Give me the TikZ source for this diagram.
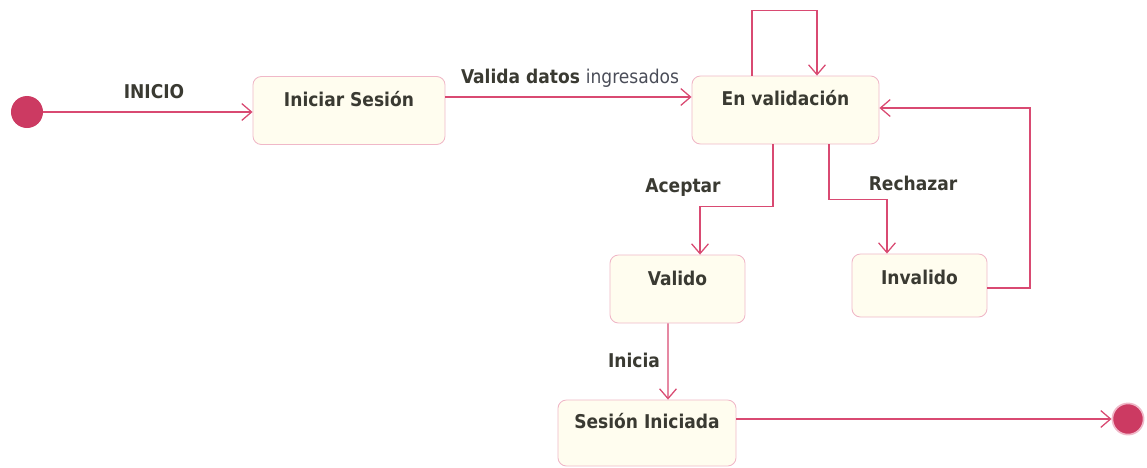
\documentclass[tikz,border=0pt]{standalone}
\usepackage{fontspec}
\setsansfont{DejaVu Sans Condensed}
\usetikzlibrary{arrows.meta}
\definecolor{linea}{HTML}{D94A72}
\definecolor{borde}{HTML}{F0B8C8}
\definecolor{relleno}{HTML}{FFFDEF}
\definecolor{punto}{HTML}{CC3A62}
\definecolor{texto}{HTML}{3A3A32}
\definecolor{suave}{HTML}{4A4D58}
\begin{document}
\begin{tikzpicture}[x=0.025cm, y=-0.025cm,
  estado/.style={rectangle, draw=borde, fill=relleno, rounded corners=6pt, line width=0.6pt,
    inner sep=0pt, text height=0.74cm, text depth=0.96cm, font=\sffamily\bfseries\fontsize{13.5}{15}\selectfont, text=texto},
  trans/.style={draw=linea, line width=0.9pt, -{Straight Barb[length=7pt, width=12pt]}},
  etiq/.style={font=\sffamily\bfseries\fontsize{13.5}{15}\selectfont, text=texto}]
  \useasboundingbox (0,0) rectangle (1147,468);

  \node (ini) [circle, fill=punto, minimum size=0.8cm, inner sep=0pt] at (27,112) {};
  \node (sesion) [estado, minimum width=4.8cm] at (349,110.5) {Iniciar Sesión};
  \node (enval) [estado, minimum width=4.675cm] at (785.5,110) {En validación};
  \node (valido) [estado, minimum width=3.375cm, text height=0.76cm, text depth=0.94cm] at (677.5,289) {Valido};
  \node (invalido) [estado, minimum width=3.375cm, text height=0.76cm, text depth=0.815cm] at (919.5,285.5) {Invalido};
  \node (iniciada) [estado, minimum width=4.45cm, text height=0.72cm, text depth=0.93cm] at (647,433) {Sesión Iniciada};
  \node (fin) [circle, draw=borde, fill=punto, line width=1.2pt, minimum size=0.78cm, inner sep=0pt] at (1128,419) {};

  \draw[trans] (ini) -- (sesion.west |- ini);
  \node (lini) [etiq] at (154,92) {INICIO};
  \draw[trans] (sesion.east |- 0,97) -- (enval.west |- 0,97);
  \node (lval) [etiq] at (570,78) {Valida datos \textmd{\color{suave}ingresados}};
  \draw[trans] ([xshift=-0.8375cm]enval.north) -- ++(0,-65) -| ([xshift=0.7875cm]enval.north);
  \draw[trans] ([xshift=-0.3125cm]enval.south) -- ++(0,62) -| ([xshift=0.5625cm]valido.north);
  \node (lacep) [etiq] at (683,188) {Aceptar};
  \draw[trans] ([xshift=1.0875cm]enval.south) -- ++(0,55) -| ([xshift=-0.8125cm]invalido.north);
  \node (lrech) [etiq] at (913,183) {Rechazar};
  \draw[trans] (invalido.east |- 0,288) -- (1030,288) |- (enval.east |- 0,108);
  \draw[trans] ([xshift=-0.2375cm]valido.south) -- ([xshift=0.525cm]iniciada.north);
  \node (linic) [etiq] at (634,360) {Inicia};
  \draw[trans] (iniciada.east |- 0,419) -- (fin);
\end{tikzpicture}
\end{document}
